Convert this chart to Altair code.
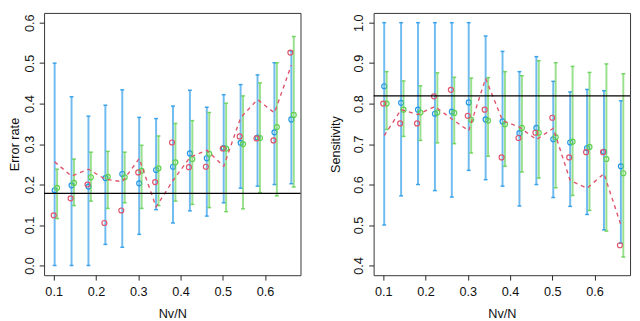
import altair as alt
import pandas as pd

# ---- data ----
nv = [0.10, 0.14, 0.18, 0.22, 0.26, 0.30, 0.34, 0.38, 0.42, 0.46, 0.50, 0.54, 0.58, 0.62, 0.66]

# Left panel: error rate
err_red = [0.124, 0.166, 0.200, 0.105, 0.136, 0.230, 0.206, 0.304, 0.243, 0.244, 0.289, 0.319, 0.314, 0.309, 0.526]
err_line = [0.256, 0.221, 0.238, 0.213, 0.207, 0.264, 0.145, 0.210, 0.267, 0.285, 0.245, 0.365, 0.410, 0.377, 0.495]
err_blue = [0.186, 0.198, 0.195, 0.216, 0.226, 0.203, 0.236, 0.244, 0.277, 0.265, 0.290, 0.303, 0.316, 0.329, 0.361]
err_blue_hi = [0.500, 0.417, 0.369, 0.396, 0.434, 0.366, 0.363, 0.394, 0.433, 0.391, 0.422, 0.447, 0.471, 0.501, 0.530]
err_blue_lo = [0.000, 0.000, 0.000, 0.052, 0.045, 0.077, 0.138, 0.105, 0.135, 0.122, 0.155, 0.191, 0.196, 0.200, 0.202]
err_green = [0.192, 0.204, 0.218, 0.219, 0.218, 0.234, 0.240, 0.255, 0.263, 0.276, 0.289, 0.300, 0.315, 0.342, 0.372]
err_green_hi = [0.238, 0.263, 0.280, 0.282, 0.280, 0.297, 0.320, 0.351, 0.358, 0.378, 0.401, 0.419, 0.451, 0.501, 0.566]
err_green_lo = [0.116, 0.148, 0.159, 0.141, 0.155, 0.141, 0.148, 0.159, 0.151, 0.143, 0.133, 0.140, 0.180, 0.172, 0.194]
err_ref = [0.178]

# Right panel: sensitivity
sen_red = [0.800, 0.751, 0.751, 0.818, 0.834, 0.770, 0.785, 0.667, 0.715, 0.728, 0.765, 0.667, 0.680, 0.680, 0.450]
sen_line = [0.721, 0.785, 0.773, 0.793, 0.762, 0.733, 0.862, 0.758, 0.742, 0.711, 0.739, 0.610, 0.591, 0.627, 0.500]
sen_blue = [0.843, 0.802, 0.785, 0.775, 0.780, 0.803, 0.761, 0.756, 0.727, 0.740, 0.712, 0.704, 0.690, 0.681, 0.645]
sen_blue_hi = [1.000, 1.000, 1.000, 1.000, 1.000, 1.000, 0.967, 0.929, 0.879, 0.916, 0.855, 0.829, 0.835, 0.832, 0.807]
sen_blue_lo = [0.500, 0.572, 0.600, 0.585, 0.569, 0.635, 0.612, 0.596, 0.547, 0.600, 0.568, 0.546, 0.526, 0.488, 0.455]
sen_green = [0.800, 0.785, 0.778, 0.778, 0.777, 0.760, 0.758, 0.749, 0.740, 0.728, 0.717, 0.706, 0.693, 0.663, 0.628]
sen_green_hi = [0.879, 0.856, 0.844, 0.876, 0.865, 0.863, 0.864, 0.879, 0.869, 0.906, 0.901, 0.892, 0.877, 0.898, 0.874]
sen_green_lo = [0.736, 0.719, 0.709, 0.703, 0.701, 0.678, 0.670, 0.645, 0.631, 0.616, 0.592, 0.573, 0.536, 0.485, 0.421]
sen_ref = [0.819]

x_ticks = [0.1, 0.2, 0.3, 0.4, 0.5, 0.6]
err_ticks = [0.0, 0.1, 0.2, 0.3, 0.4, 0.5, 0.6]
sen_ticks = [0.4, 0.5, 0.6, 0.7, 0.8, 0.9, 1.0]

RED = "#DF536B"
GREEN = "#61D04F"
BLUE = "#2297E6"
FONT = "Liberation Sans"

W, H = 263, 269


def panel(red, line, blue, blue_lo, blue_hi, green, green_lo, green_hi, ref,
          ydomain, yticks, ytitle, title_pad):
    df = pd.DataFrame({
        "x": nv, "red": red, "line": line,
        "blue": blue, "blue_lo": blue_lo, "blue_hi": blue_hi,
        "green": green, "green_lo": green_lo, "green_hi": green_hi,
    })
    xs = alt.Scale(domain=[0.0773, 0.684], nice=False, zero=False)
    ys = alt.Scale(domain=ydomain, nice=False, zero=False)
    xax = alt.Axis(values=x_ticks, format=".1f", title="Nv/N", grid=False,
                   domain=False, tickSize=5, tickColor="#222", labelColor="#111",
                   labelFontSize=13, titleFontSize=13, labelFont=FONT, titleFont=FONT,
                   titleFontWeight="normal", titleColor="#111", labelPadding=6,
                   titlePadding=9, labelFlush=False)
    yax = alt.Axis(values=yticks, format=".1f", title=ytitle, grid=False,
                   domain=False, tickSize=5, tickColor="#222", labelColor="#111",
                   labelFontSize=13, titleFontSize=13, labelFont=FONT, titleFont=FONT,
                   titleFontWeight="normal", titleColor="#111", labelAngle=-90,
                   labelAlign="center", labelBaseline="alphabetic", labelPadding=6,
                   titlePadding=title_pad, labelFlush=False)
    X = alt.X("x:Q", scale=xs, axis=xax)
    base = alt.Chart(df)

    def bars(col, color, off):
        r = base.mark_rule(color=color, strokeWidth=2, opacity=0.65, xOffset=off).encode(
            x=X, y=alt.Y(f"{col}_lo:Q", scale=ys, axis=yax), y2=f"{col}_hi:Q")
        t1 = base.mark_tick(color=color, orient="horizontal", size=4, thickness=1.5,
                            opacity=0.85, xOffset=off).encode(x=X, y=alt.Y(f"{col}_lo:Q", scale=ys))
        t2 = base.mark_tick(color=color, orient="horizontal", size=4, thickness=1.5,
                            opacity=0.85, xOffset=off).encode(x=X, y=alt.Y(f"{col}_hi:Q", scale=ys))
        p = base.mark_point(color=color, size=26, strokeWidth=1.2, filled=False, opacity=1,
                            xOffset=off).encode(x=X, y=alt.Y(f"{col}:Q", scale=ys))
        return [r, t1, t2, p]

    layers = bars("blue", BLUE, 1) + bars("green", GREEN, 3.5)
    layers.append(base.mark_point(color=RED, size=26, strokeWidth=1.2, filled=False, opacity=1)
                  .encode(x=X, y=alt.Y("red:Q", scale=ys)))
    layers.append(base.mark_line(color=RED, strokeWidth=1.4, strokeDash=[4, 4], xOffset=1)
                  .encode(x=X, y=alt.Y("line:Q", scale=ys)))
    layers.append(alt.Chart(pd.DataFrame({"ref": ref})).mark_rule(color="black", strokeWidth=1.3)
                  .encode(y=alt.Y("ref:Q", scale=ys)))
    return alt.layer(*layers).properties(width=W, height=H)


left = panel(err_red, err_line, err_blue, err_blue_lo, err_blue_hi,
             err_green, err_green_lo, err_green_hi, err_ref,
             [-0.024, 0.624], err_ticks, "Error rate", 2)
right = panel(sen_red, sen_line, sen_blue, sen_blue_lo, sen_blue_hi,
              sen_green, sen_green_lo, sen_green_hi, sen_ref,
              [0.376, 1.024], sen_ticks, "Sensitivity", 11)

chart = alt.hconcat(left, right, spacing=27).properties(
    padding={"left": 0, "top": 0, "right": 0, "bottom": 0}
).configure_view(stroke="#333", strokeWidth=1).resolve_scale(y="independent")

chart.save("out.html", embed_options={"renderer": "svg", "actions": False})
